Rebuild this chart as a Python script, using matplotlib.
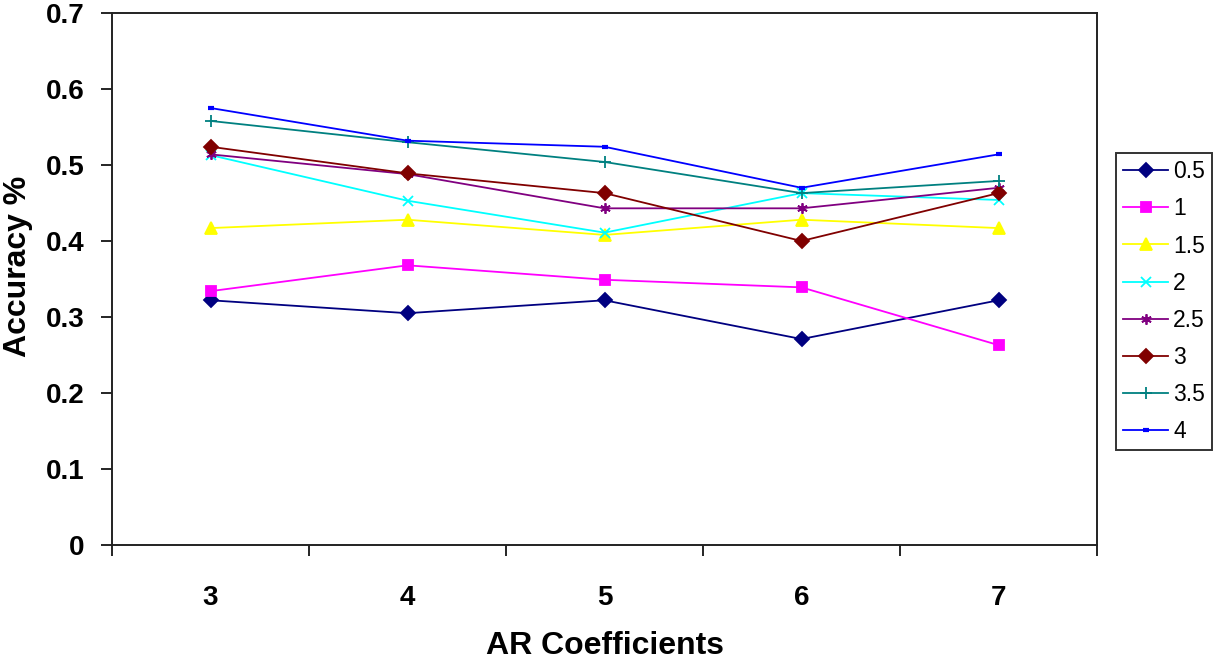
import matplotlib
matplotlib.use("Agg")
import matplotlib.pyplot as plt
from matplotlib.ticker import FixedLocator, NullFormatter

plt.rcParams["font.family"] = ["Liberation Sans", "DejaVu Sans"]

# AR coefficient counts on the x axis
ar_coeffs = [3, 4, 5, 6, 7]
y_ticks = [0, 0.1, 0.2, 0.3, 0.4, 0.5, 0.6, 0.7]
y_tick_labels = ["0", "0.1", "0.2", "0.3", "0.4", "0.5", "0.6", "0.7"]

# accuracy per series (legend label -> values at 3..7 coefficients)
acc_05 = [0.322, 0.305, 0.322, 0.271, 0.322]
acc_1 = [0.334, 0.368, 0.349, 0.339, 0.263]
acc_15 = [0.417, 0.428, 0.408, 0.428, 0.417]
acc_2 = [0.513, 0.453, 0.411, 0.463, 0.454]
acc_25 = [0.514, 0.488, 0.443, 0.443, 0.470]
acc_3 = [0.524, 0.489, 0.463, 0.400, 0.463]
acc_35 = [0.558, 0.530, 0.504, 0.463, 0.479]
acc_4 = [0.575, 0.532, 0.524, 0.470, 0.514]

series = [
    ("0.5", acc_05, "#000080", "D", 7.5),
    ("1", acc_1, "#FF00FF", "s", 7.5),
    ("1.5", acc_15, "#FFFF00", "^", 8.5),
    ("2", acc_2, "#00FFFF", "x", 7),
    ("2.5", acc_25, "#800080", (6, 2, 0), 7.5),
    ("3", acc_3, "#800000", "D", 7.5),
    ("3.5", acc_35, "#008080", "+", 8.5),
    ("4", acc_4, "#0000FF", "_", 5),
]

W, H = 1215, 660
fig = plt.figure(figsize=(W / 100, H / 100), dpi=100)
ax = fig.add_axes([112 / W, 1 - 545 / H, (1097 - 112) / W, (545 - 13) / H])

for label, vals, color, marker, ms in series:
    mew = 3 if marker == "_" else 1.3
    ax.plot(ar_coeffs, vals, color=color, lw=1.3, marker=marker, ms=ms,
            mfc=color, mec=color, mew=mew, label=label)

ax.set_xlim(2.5, 7.5)
ax.set_ylim(0, 0.7)

# category ticks between groups, labels centred on the categories
ax.xaxis.set_major_locator(FixedLocator([2.5, 3.5, 4.5, 5.5, 6.5, 7.5]))
ax.xaxis.set_major_formatter(NullFormatter())
ax.set_xticks(ar_coeffs, [str(v) for v in ar_coeffs], minor=True)
ax.tick_params(axis="x", which="major", direction="out", length=8, width=1.2)
ax.tick_params(axis="x", which="minor", length=0, pad=29, labelsize=20)
for t in ax.get_xticklabels(minor=True):
    t.set_fontweight("bold")

ax.set_yticks(y_ticks, y_tick_labels)
ax.tick_params(axis="y", direction="out", length=8, width=1.2, pad=12, labelsize=20)
for t in ax.get_yticklabels():
    t.set_fontweight("bold")

for sp in ax.spines.values():
    sp.set_linewidth(1.4)
    sp.set_color("#222222")

ax.set_xlabel("AR Coefficients", fontsize=23, fontweight="bold", labelpad=14)
ax.set_ylabel("Accuracy %", fontsize=23, fontweight="bold")
ax.yaxis.set_label_coords(-0.080, 0.523)

leg = fig.legend(loc="upper left", bbox_to_anchor=(1116 / W, 1 - 153 / H),
                 fontsize=16.5, frameon=True, fancybox=False, edgecolor="black",
                 handlelength=1.95, handletextpad=0.22, labelspacing=0.615,
                 borderpad=0.32, borderaxespad=0)
leg.get_frame().set_linewidth(1.4)

fig.savefig("out.png", dpi=100, facecolor="white")
